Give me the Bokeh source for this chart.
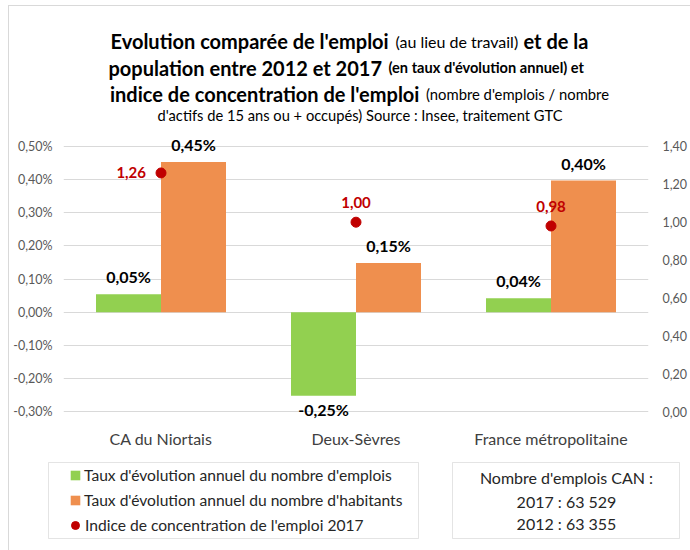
from bokeh.plotting import figure
from bokeh.layouts import column
from bokeh.models import (ColumnDataSource, FactorRange, Range1d, LinearAxis, FixedTicker,
                          CustomJSTickFormatter, Legend, LegendItem, BoxAnnotation)
from bokeh.transform import dodge
from bokeh.core.properties import value
from bokeh.embed import file_html
from bokeh.resources import INLINE

# ---------------- data ----------------
categories = ["CA du Niortais", "Deux-Sèvres", "France métropolitaine"]
emploi = [0.054, -0.252, 0.042]        # taux d'évolution annuel du nombre d'emplois (%)
habitants = [0.453, 0.148, 0.397]      # taux d'évolution annuel du nombre d'habitants (%)
indice = [1.26, 1.00, 0.98]            # indice de concentration de l'emploi 2017
series_names = ["Taux d'évolution annuel du nombre d'emplois",
                "Taux d'évolution annuel du nombre d'habitants",
                "Indice de concentration de l'emploi 2017"]
left_ticks = [-0.3, -0.2, -0.1, 0.0, 0.1, 0.2, 0.3, 0.4, 0.5]
right_ticks = [0.0, 0.2, 0.4, 0.6, 0.8, 1.0, 1.2, 1.4]
box_lines = ["Nombre d'emplois CAN :", "2017 : 63 529", "2012 : 63 355"]
title_texts = ["Evolution comparée de l'emploi", "(au lieu de travail)", "et de la",
               "population entre 2012 et 2017", "(en taux d'évolution annuel) et",
               "indice de concentration de l'emploi", "(nombre d'emplois / nombre",
               "d'actifs de 15 ans ou + occupés) Source : Insee, traitement GTC"]

# ---------------- styles / layout ----------------
FONT = "Lato"
GREEN = "#92D050"
ORANGE = "#EF8F4E"
RED = "#C00000"
W = 690
TITLE_H, MAIN_H, BOTTOM_H = 130, 320, 100

title_bold = [True, False, True, True, True, True, False, False]
title_size = ["20px", "16px", "20px", "20px", "14.6px", "20px", "14.8px", "14.7px"]
title_x = [110, 395, 523, 108, 388, 109.5, 425.5, 359.5]
title_y = [40.5, 40.5, 40.5, 67, 67, 93, 93, 114]
title_align = ["left"] * 7 + ["center"]


def pct(v):
    return f"{v:.2f}".replace(".", ",") + "%"


def dec(v):
    return f"{v:.2f}".replace(".", ",")


def bare(fig):
    fig.grid.visible = False
    fig.outline_line_color = None
    fig.background_fill_alpha = 0
    fig.border_fill_alpha = 0
    fig.frame_align = False


# ---------------- title figure ----------------
pt = figure(width=W, height=TITLE_H, x_range=Range1d(0, W), y_range=Range1d(TITLE_H, 0),
            x_axis_location=None, y_axis_location=None,
            output_backend="svg", toolbar_location=None, min_border=0)
bare(pt)
tsrc = ColumnDataSource(dict(x=title_x, y=title_y, text=title_texts, align=title_align,
                             style=["bold" if b else "normal" for b in title_bold],
                             size=title_size))
pt.text(x="x", y="y", text="text", source=tsrc, text_align="align", text_baseline="alphabetic",
        text_font=value(FONT), text_font_style="style", text_font_size="size", text_color="black")

# ---------------- main figure ----------------
src = ColumnDataSource(dict(
    cat=categories,
    emploi=emploi,
    habitants=habitants,
    indice=indice,
    emploi_lab=[pct(v) for v in emploi],
    hab_lab=[pct(v) for v in habitants],
    idx_lab=[dec(v) for v in indice],
    emploi_base=["bottom" if v >= 0 else "top" for v in emploi],
    emploi_off=[-8 if v >= 0 else 4 for v in emploi],
))
# label placement for the index points (style only)
src.data["idx_align"] = ["right", "center", "center"]
src.data["idx_dx"] = [-15, 0, 0]
src.data["idx_dy"] = [0, -14, -14]
src.data["idx_base"] = ["middle", "bottom", "bottom"]

Y0, Y1 = -0.33, 0.53
p = figure(x_range=FactorRange(*categories, range_padding=0), y_range=Range1d(Y0, Y1),
           width=W, height=MAIN_H, output_backend="svg", toolbar_location=None,
           min_border_left=63, min_border_right=37, min_border_top=6, min_border_bottom=28)
# right axis aligned so that 0 <-> -0.30 % and 1.40 <-> 0.50 %
k = 1.4 / 0.8
p.extra_y_ranges = {"idx": Range1d((Y0 + 0.3) * k, (Y1 + 0.3) * k)}
p.outline_line_color = None
p.background_fill_alpha = 0
p.border_fill_alpha = 0
p.frame_align = False

p.xgrid.grid_line_color = None
p.ygrid.ticker = FixedTicker(ticks=left_ticks)
p.ygrid.grid_line_color = "#D9D9D9"
p.ygrid.grid_line_width = 1

fmt_pct = CustomJSTickFormatter(code="return tick.toFixed(2).replace('.', ',') + '%';")
fmt_dec = CustomJSTickFormatter(code="return tick.toFixed(2).replace('.', ',');")

ya = p.yaxis[0]
ya.ticker = FixedTicker(ticks=left_ticks)
ya.formatter = fmt_pct
ya.major_label_standoff = 11

ra = LinearAxis(y_range_name="idx", ticker=FixedTicker(ticks=right_ticks), formatter=fmt_dec)
ra.major_label_standoff = 14
p.add_layout(ra, "right")

for ax in (ya, ra):
    ax.major_label_text_font = FONT
    ax.major_label_text_font_size = "12.5px"
    ax.major_label_text_color = "#595959"

xa = p.xaxis[0]
xa.major_label_text_font = FONT
xa.major_label_text_font_size = "16px"
xa.major_label_text_color = "#404040"
xa.major_label_standoff = 7

for ax in (ya, ra, xa):
    ax.axis_line_color = None
    ax.major_tick_line_color = None
    ax.minor_tick_line_color = None
    ax.major_tick_out = 0
    ax.major_tick_in = 0
    ax.minor_tick_out = 0

p.vbar(x=dodge("cat", -1 / 6, range=p.x_range), top="emploi", bottom=0, width=1 / 3,
       source=src, fill_color=GREEN, line_color=None)
p.vbar(x=dodge("cat", 1 / 6, range=p.x_range), top="habitants", bottom=0, width=1 / 3,
       source=src, fill_color=ORANGE, line_color=None)
p.scatter(x="cat", y="indice", y_range_name="idx", source=src, size=10,
          fill_color=RED, line_color=RED)

p.text(x=dodge("cat", -1 / 6, range=p.x_range), y="emploi", text="emploi_lab", source=src,
       text_align="center", text_baseline="emploi_base", y_offset="emploi_off",
       text_font=value(FONT), text_font_style="bold", text_font_size="16px", text_color="black")
p.text(x=dodge("cat", 1 / 6, range=p.x_range), y="habitants", text="hab_lab", source=src,
       text_align="center", text_baseline="bottom", y_offset=-8,
       text_font=value(FONT), text_font_style="bold", text_font_size="16px", text_color="black")
p.text(x="cat", y="indice", y_range_name="idx", text="idx_lab", source=src,
       text_align="idx_align", text_baseline="idx_base", x_offset="idx_dx", y_offset="idx_dy",
       text_font=value(FONT), text_font_style="bold", text_font_size="15px", text_color=RED)

# ---------------- bottom figure: legend + note box ----------------
pb = figure(width=W, height=BOTTOM_H, x_range=Range1d(0, W), y_range=Range1d(450 + BOTTOM_H, 450),
            x_axis_location=None, y_axis_location=None,
            output_backend="svg", toolbar_location=None, min_border=0)
bare(pb)

# legend keys: hidden copies of the chart's series (same source, same styling)
g_emp = pb.vbar(x="emploi", top="emploi", width=0.1, source=src, fill_color=GREEN,
                line_color=None, visible=False)
g_hab = pb.vbar(x="habitants", top="habitants", width=0.1, source=src, fill_color=ORANGE,
                line_color=None, visible=False)
g_idx = pb.scatter(x="indice", y="indice", size=10, source=src, fill_color=RED, line_color=RED,
                   visible=False)

leg_common = dict(orientation="vertical", padding=0, margin=0, spacing=5, label_height=20,
                  border_line_color=None, background_fill_alpha=0, click_policy="none",
                  inactive_fill_alpha=0,
                  label_text_font=FONT, label_text_font_size="15.6px", label_text_color="#262626")
leg1 = Legend(items=[LegendItem(label=series_names[0], renderers=[g_emp]),
                     LegendItem(label=series_names[1], renderers=[g_hab])],
              location=(69, BOTTOM_H - 60), glyph_width=12, glyph_height=12, label_standoff=3,
              **leg_common)
leg2 = Legend(items=[LegendItem(label=series_names[2], renderers=[g_idx])],
              location=(65, BOTTOM_H - 85), glyph_width=20, glyph_height=20, label_standoff=0,
              **leg_common)
pb.add_layout(leg1, "center")
pb.add_layout(leg2, "center")

pb.add_layout(BoxAnnotation(left=48, right=418, top=462, bottom=538, fill_alpha=0,
                            line_color="#A6A6A6", line_width=1))
pb.add_layout(BoxAnnotation(left=452, right=679, top=462, bottom=538, fill_alpha=0,
                            line_color="#A6A6A6", line_width=1))
bsrc = ColumnDataSource(dict(x=[566, 566, 566], y=[477, 501, 523], text=box_lines))
pb.text(x="x", y="y", text="text", source=bsrc, text_align="center", text_baseline="middle",
        text_font=value(FONT), text_font_size="16px", text_color="#262626")

layout = column(pt, p, pb, spacing=0)
# faint outer chart border (left and top edges) drawn behind the transparent canvases
layout.styles = {
    "background": ("linear-gradient(#D9D9D9, #D9D9D9) 8px 5px / 1px 100% no-repeat, "
                   "linear-gradient(#D9D9D9, #D9D9D9) 8px 5px / 100% 1px no-repeat, white"),
}
open("out.html", "w").write(file_html(layout, INLINE))
